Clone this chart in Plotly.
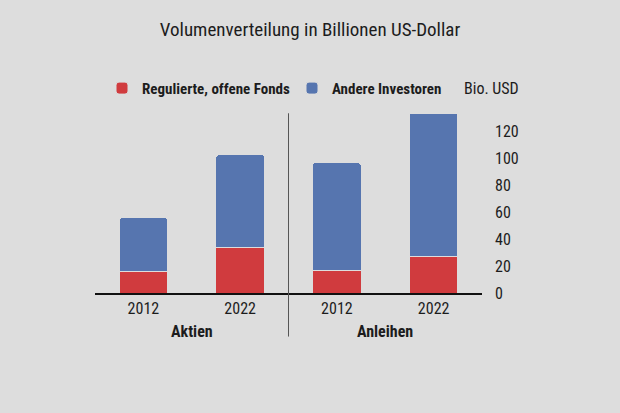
import plotly.graph_objects as go

groups = ["Aktien", "Anleihen"]
years = ["2012", "2022", "2012", "2022"]
regulated = [16, 34, 17, 27]
others = [40, 69, 80, 107]
y_ticks = [0, 20, 40, 60, 80, 100, 120]

FONT = "Roboto Condensed, DejaVu Sans Condensed, sans-serif"
BG = "#dddddd"
RED = "#d03b3e"
BLUE = "#5675af"
TXT = "#1c1c1c"

# plot area geometry (px)
L, R_EDGE, TOP, BASE = 95, 482, 104.7, 293.3
PW, PH = R_EDGE - L, BASE - TOP

def px_x(x):
    return (x - L) / PW

def px_y(y):
    return (BASE - y) / PH

xpos = list(range(len(years)))

fig = go.Figure()
fig.add_trace(go.Bar(x=xpos, y=regulated, name="<b>Regulierte, offene Fonds</b>", legend="legend",
                     marker=dict(color=RED, line=dict(color=BG, width=1)), width=0.5))
fig.add_trace(go.Bar(x=xpos, y=others, name="<b>Andere Investoren</b>", legend="legend2",
                     marker=dict(color=BLUE, line=dict(color=BG, width=1)), width=0.5))

for i, g in enumerate(groups):
    fig.add_annotation(x=2 * i + 0.5, xref="x", y=px_y(332), yref="paper", text="<b>" + g + "</b>",
                       showarrow=False, font=dict(family=FONT, size=16, color=TXT), yanchor="middle")

fig.add_shape(type="line", x0=1.5, x1=1.5, xref="x", y0=px_y(337), y1=px_y(113), yref="paper",
              line=dict(color="#555555", width=1))

fig.add_annotation(x=px_x(492), xref="paper", y=px_y(88), yref="paper", text="Bio. USD", showarrow=False,
                   xanchor="center", yanchor="middle",
                   font=dict(family=FONT, size=16, color=TXT))

legend_common = dict(orientation="h", yanchor="middle", y=px_y(88), xanchor="left",
                     font=dict(family=FONT, size=15, color=TXT), bgcolor="rgba(0,0,0,0)")

fig.update_layout(
    width=620, height=413,
    margin=dict(l=L, r=620 - R_EDGE, t=TOP, b=413 - BASE),
    paper_bgcolor=BG, plot_bgcolor=BG,
    barmode="stack", barcornerradius=3,
    title=dict(text="Volumenverteilung in Billionen US-Dollar", x=0.5, xanchor="center",
               y=1 - 29 / 413, yanchor="middle",
               font=dict(family=FONT, size=19, color=TXT)),
    font=dict(family=FONT, size=15, color=TXT),
    legend=dict(x=px_x(102), **legend_common),
    legend2=dict(x=px_x(292), **legend_common),
    xaxis=dict(range=[-0.5, 3.5], tickvals=xpos, ticktext=years, showgrid=False, zeroline=False,
               showline=True, linecolor="#111111", linewidth=1.5, ticks="",
               tickfont=dict(family=FONT, size=16, color=TXT), fixedrange=True),
    yaxis=dict(range=[0, 140], side="right", tickvals=y_ticks, showgrid=False, zeroline=False,
               showline=False, ticks="", ticklabelstandoff=12,
               tickfont=dict(family=FONT, size=16, color=TXT)),
    showlegend=True,
)

fig.write_html("out.html", config={"displayModeBar": False},
               post_script="document.body.style.margin='0';")
